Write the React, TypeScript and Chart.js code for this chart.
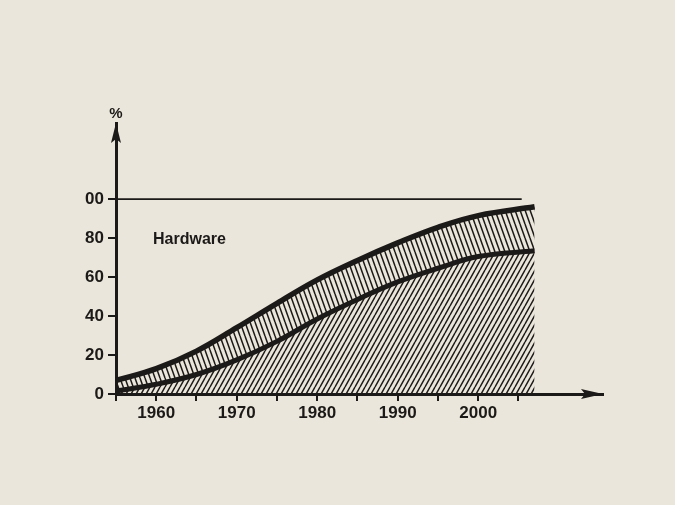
import { useEffect, useRef } from 'react';
import { Chart, registerables } from 'chart.js';

Chart.register(...registerables);

const YEARS = [1955, 1960, 1965, 1970, 1975, 1980, 1985, 1990, 1995, 2000, 2007];
const UPPER_CURVE = [7, 13, 22, 34, 46.5, 58.5, 68.5, 77.5, 85.5, 91.5, 96];
const LOWER_CURVE = [1.5, 5, 10, 17.5, 27, 38.5, 48.5, 57.5, 64.5, 70.5, 73.5];
const FULL_LINE_YEARS = [1955, 2005.4];
const FULL_LINE_VALUE = [100, 100];
const X_TICKS = [1955, 1960, 1965, 1970, 1975, 1980, 1985, 1990, 1995, 2000, 2005];
const X_LABELLED = [1960, 1970, 1980, 1990, 2000];
const Y_TICKS = [0, 20, 40, 60, 80, 100];
const Y_LABELS = ['0', '20', '40', '60', '80', '00'];
const AREA_LABEL = 'Hardware';
const UNIT_LABEL = '%';

const INK = '#1c1a18';
const PAPER = '#ebe6db';
const FONT = '"Liberation Sans", Arial, sans-serif';

function makeHatch(ctx: CanvasRenderingContext2D, w: number, h: number, dir: '/' | '\\', lw: number): CanvasPattern {
  const c = document.createElement('canvas');
  c.width = w;
  c.height = h;
  const g = c.getContext('2d')!;
  g.strokeStyle = INK;
  g.lineWidth = lw;
  g.beginPath();
  for (const o of [-w, 0, w]) {
    if (dir === '/') {
      g.moveTo(o, h);
      g.lineTo(o + w, 0);
    } else {
      g.moveTo(o, 0);
      g.lineTo(o + w, h);
    }
  }
  g.stroke();
  return ctx.createPattern(c, 'repeat')!;
}

const decorPlugin = {
  id: 'decor',
  afterDraw(chart: any) {
    const { ctx, chartArea } = chart;
    const { left, right, top, bottom } = chartArea;
    const xs = chart.scales.x;
    const ys = chart.scales.y;
    ctx.save();
    ctx.fillStyle = INK;
    // y arrow
    ctx.beginPath();
    ctx.moveTo(left, top);
    ctx.lineTo(left - 5, top + 20);
    ctx.lineTo(left, top + 16);
    ctx.lineTo(left + 5, top + 20);
    ctx.closePath();
    ctx.fill();
    // x arrow
    ctx.beginPath();
    ctx.moveTo(right, bottom);
    ctx.lineTo(right - 22, bottom - 5);
    ctx.lineTo(right - 18, bottom);
    ctx.lineTo(right - 22, bottom + 5);
    ctx.closePath();
    ctx.fill();
    // texts
    ctx.font = `bold 15px ${FONT}`;
    ctx.textAlign = 'center';
    ctx.textBaseline = 'middle';
    ctx.fillText(UNIT_LABEL, left, top - 9);
    ctx.font = `bold 16px ${FONT}`;
    ctx.textAlign = 'left';
    ctx.fillText(AREA_LABEL, xs.getPixelForValue(1959.6), ys.getPixelForValue(79));
    ctx.restore();
  },
};

export default function App() {
  const ref = useRef<HTMLCanvasElement>(null);

  useEffect(() => {
    const canvas = ref.current!;
    const ctx = canvas.getContext('2d')!;
    const lowerHatch = makeHatch(ctx, 5, 9, '/', 1.5);
    const upperHatch = makeHatch(ctx, 5, 14, '\\', 1.5);

    const chart = new Chart(canvas, {
      type: 'line',
      data: {
        datasets: [
          {
            label: 'lower',
            data: YEARS.map((x, i) => ({ x, y: LOWER_CURVE[i] })),
            borderColor: INK,
            borderWidth: 5,
            backgroundColor: lowerHatch,
            fill: 'origin',
            pointRadius: 0,
            tension: 0.4,
          },
          {
            label: 'upper',
            data: YEARS.map((x, i) => ({ x, y: UPPER_CURVE[i] })),
            borderColor: INK,
            borderWidth: 5.5,
            backgroundColor: upperHatch,
            fill: '-1',
            pointRadius: 0,
            tension: 0.4,
          },
          {
            label: 'full',
            data: FULL_LINE_YEARS.map((x, i) => ({ x, y: FULL_LINE_VALUE[i] })),
            borderColor: INK,
            borderWidth: 1.8,
            fill: false,
            pointRadius: 0,
          },
        ],
      },
      options: {
        responsive: false,
        animation: false,
        devicePixelRatio: 1,
        layout: { padding: { top: 123, right: 72, left: 0, bottom: 0 } },
        plugins: { legend: { display: false }, tooltip: { enabled: false } },
        scales: {
          x: {
            type: 'linear',
            min: 1955,
            max: 2015.5,
            afterBuildTicks: (s: any) => {
              s.ticks = X_TICKS.map((v) => ({ value: v }));
            },
            afterFit: (s: any) => {
              s.height = 111;
            },
            border: { display: true, color: INK, width: 3 },
            grid: { display: true, drawOnChartArea: false, drawTicks: true, tickLength: 7, color: INK, lineWidth: 2 },
            ticks: {
              autoSkip: false,
              maxRotation: 0,
              padding: 2,
              color: INK,
              font: { family: FONT, size: 17, weight: 'bold' },
              callback: (v: any) => (X_LABELLED.includes(Number(v)) ? String(v) : ''),
            },
          },
          y: {
            type: 'linear',
            min: 0,
            max: 139,
            afterBuildTicks: (s: any) => {
              s.ticks = Y_TICKS.map((v) => ({ value: v }));
            },
            afterFit: (s: any) => {
              s.width = 116;
            },
            border: { display: true, color: INK, width: 3 },
            grid: { display: true, drawOnChartArea: false, drawTicks: true, tickLength: 8, color: INK, lineWidth: 2 },
            ticks: {
              autoSkip: false,
              padding: 4,
              color: INK,
              font: { family: FONT, size: 17, weight: 'bold' },
              callback: (v: any) => {
                const i = Y_TICKS.indexOf(Number(v));
                return i >= 0 ? Y_LABELS[i] : '';
              },
            },
          },
        },
      },
      plugins: [decorPlugin],
    } as any);

    return () => chart.destroy();
  }, []);

  return (
    <div style={{ position: 'fixed', left: 0, top: 0, width: 675, height: 505, background: PAPER }}>
      <canvas ref={ref} width={675} height={505} style={{ display: 'block' }} />
    </div>
  );
}
